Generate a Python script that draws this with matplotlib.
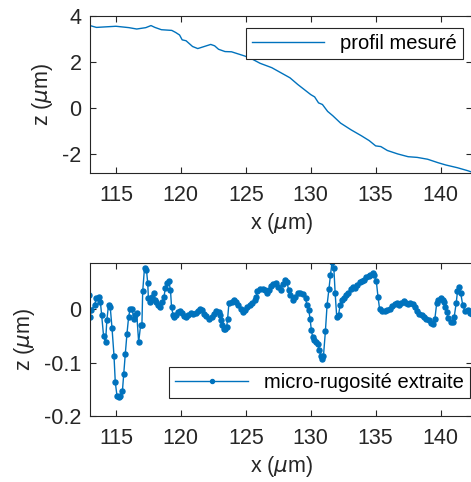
import numpy as np
import matplotlib
matplotlib.use('Agg')
import matplotlib.pyplot as plt
from matplotlib.ticker import FormatStrFormatter

# profil mesure (x en um, z en um)
x_prof = [113.0, 113.5, 115.0, 116.0, 116.6, 117.3, 117.7, 118.0, 118.5, 119.3,
          119.6, 119.9, 120.1, 120.4, 120.9, 121.3, 121.8, 122.3, 122.6, 122.9,
          123.4, 123.9, 124.4, 124.9, 125.4, 126.1, 127.0, 127.7, 128.4, 129.0,
          129.5, 130.0, 130.3, 130.6, 130.9, 131.3, 131.7, 132.3, 133.1, 133.9,
          134.5, 135.0, 135.4, 135.9, 136.7, 137.5, 138.2, 139.0, 139.8, 140.4,
          141.3, 142.1, 142.45]
z_prof = [3.58, 3.50, 3.55, 3.49, 3.43, 3.49, 3.58, 3.50, 3.40, 3.37,
          3.28, 3.17, 2.96, 2.92, 2.67, 2.58, 2.67, 2.76, 2.70, 2.55,
          2.45, 2.44, 2.35, 2.26, 2.15, 1.94, 1.75, 1.53, 1.31, 1.02,
          0.80, 0.58, 0.48, 0.22, 0.15, -0.15, -0.34, -0.66, -0.95, -1.21,
          -1.42, -1.65, -1.68, -1.85, -2.00, -2.12, -2.15, -2.23, -2.38, -2.48,
          -2.60, -2.73, -2.80]

# micro-rugosite extraite
x_rug = [112.94, 113.0, 113.1, 113.35, 113.5, 113.66, 113.8, 113.9, 114.05, 114.2,
         114.3, 114.43, 114.56, 114.7, 114.85, 114.95, 115.08, 115.2, 115.33, 115.5,
         115.6, 115.72, 115.85, 115.98, 116.1, 116.24, 116.37, 116.5, 116.6, 116.75,
         116.9, 117.0, 117.06, 117.2, 117.35, 117.45, 117.5, 117.65, 117.8, 117.9,
         118.0, 118.1, 118.25, 118.43, 118.55, 118.7, 118.8, 118.95, 119.07, 119.2,
         119.28, 119.4, 119.5, 119.64, 119.8, 119.97, 120.1, 120.26, 120.4, 120.57,
         120.75, 120.95, 121.13, 121.3, 121.47, 121.6, 121.78, 121.96, 122.16, 122.37,
         122.55, 122.73, 122.9, 123.0, 123.1, 123.2, 123.3, 123.4, 123.53, 123.6,
         123.7, 123.9, 124.1, 124.28, 124.43, 124.6, 124.8, 124.95, 125.13, 125.3,
         125.5, 125.7, 125.8, 125.9, 126.08, 126.3, 126.47, 126.62, 126.8, 126.93,
         127.1, 127.3, 127.5, 127.7, 127.9, 128.04, 128.17, 128.3, 128.43, 128.6,
         128.8, 129.0, 129.2, 129.43, 129.6, 129.7, 129.85, 129.95, 130.05, 130.15,
         130.26, 130.4, 130.54, 130.67, 130.77, 130.88, 130.98, 131.13, 131.26, 131.4,
         131.52, 131.65, 131.78, 131.88, 132.0, 132.14, 132.27, 132.4, 132.55, 132.73,
         132.9, 133.07, 133.25, 133.43, 133.58, 133.76, 133.94, 134.1, 134.28, 134.46,
         134.6, 134.8, 134.9, 135.05, 135.18, 135.3, 135.5, 135.7, 135.88, 136.08,
         136.26, 136.47, 136.65, 136.8, 136.98, 137.16, 137.3, 137.5, 137.68, 137.84,
         138.0, 138.2, 138.35, 138.53, 138.7, 138.9, 139.1, 139.25, 139.43, 139.56,
         139.7, 139.8, 140.0, 140.15, 140.26, 140.36, 140.46, 140.6, 140.77, 140.93,
         141.05, 141.2, 141.3, 141.4, 141.55, 141.7, 141.88, 142.1, 142.27, 142.4]
z_rug = [0.026, -0.014, -0.002, 0.008, 0.020, 0.023, 0.014, -0.011, -0.051, -0.062,
         -0.021, 0.008, 0.004, -0.036, -0.087, -0.137, -0.162, -0.165, -0.162, -0.153,
         -0.121, -0.084, -0.046, -0.014, 0.001, 0.001, -0.018, -0.011, -0.008, -0.062,
         -0.030, -0.030, 0.033, 0.077, 0.074, 0.048, 0.020, 0.014, 0.023, 0.030,
         0.017, 0.014, 0.008, 0.004, 0.014, 0.023, 0.039, 0.048, 0.052, 0.036,
         0.004, -0.011, -0.014, -0.011, -0.005, -0.003, -0.008, -0.013, -0.014, -0.011,
         -0.008, -0.009, -0.007, -0.003, 0.001, -0.002, -0.009, -0.013, -0.018, -0.014,
         -0.009, -0.003, -0.005, -0.011, -0.021, -0.030, -0.038, -0.038, -0.033, -0.018,
         0.011, 0.014, 0.018, 0.014, 0.008, 0.001, -0.005, -0.002, 0.004, 0.008,
         0.011, 0.017, 0.023, 0.033, 0.037, 0.037, 0.035, 0.030, 0.036, 0.043,
         0.047, 0.048, 0.042, 0.036, 0.047, 0.055, 0.050, 0.036, 0.026, 0.017,
         0.022, 0.030, 0.031, 0.028, 0.020, 0.008, -0.002, -0.018, -0.040, -0.052,
         -0.057, -0.062, -0.065, -0.076, -0.087, -0.093, -0.088, -0.041, 0.008, 0.037,
         0.064, 0.089, 0.077, 0.030, -0.014, -0.011, 0.008, 0.018, 0.020, 0.026,
         0.030, 0.037, 0.042, 0.040, 0.045, 0.050, 0.052, 0.055, 0.060, 0.062,
         0.064, 0.067, 0.064, 0.052, 0.023, 0.001, -0.003, -0.003, -0.002, 0.001,
         0.006, 0.009, 0.012, 0.008, 0.011, 0.016, 0.012, 0.009, 0.012, 0.009,
         0.004, -0.003, -0.009, -0.011, -0.014, -0.019, -0.021, -0.026, -0.028, -0.018,
         0.011, 0.018, 0.020, 0.018, 0.014, 0.004, -0.005, -0.016, -0.024, -0.024,
         -0.014, 0.011, 0.033, 0.042, 0.030, 0.008, -0.003, -0.002, -0.007, -0.009]

x_ticks = [115, 120, 125, 130, 135, 140]

blue = '#0072BD'
dark = '#262626'

plt.rcParams['font.family'] = ['Liberation Sans', 'DejaVu Sans']
plt.rcParams['axes.unicode_minus'] = False
plt.rcParams['axes.edgecolor'] = dark
plt.rcParams['xtick.color'] = dark
plt.rcParams['ytick.color'] = dark
plt.rcParams['axes.labelcolor'] = dark
plt.rcParams['axes.linewidth'] = 0.8

fig = plt.figure(figsize=(4.71, 4.82), dpi=100)
ax1 = fig.add_axes([0.191, 0.641, 0.812, 0.326])
ax2 = fig.add_axes([0.191, 0.137, 0.812, 0.317])

ax1.plot(x_prof, z_prof, color=blue, lw=1.0, label='profil mesuré')
ax1.set_ylim(-2.83, 4)
ax1.set_yticks([-2, 0, 2, 4])

ax2.plot(x_rug, z_rug, color=blue, lw=1.0, marker='o', ms=3.6,
         label='micro-rugosité extraite')
ax2.set_ylim(-0.2, 0.086)
ax2.set_yticks([-0.2, -0.1, 0])
ax2.yaxis.set_major_formatter(FormatStrFormatter('%g'))

for ax in (ax1, ax2):
    ax.set_xlim(113, 142.45)
    ax.set_xticks(x_ticks)
    ax.tick_params(direction='in', top=True, right=True, labelsize=15.5,
                   length=4, width=0.8)
    ax.tick_params(axis='x', pad=8.5)
    ax.tick_params(axis='y', pad=6)
    ax.set_xlabel(r'x ($\mu$m)', fontsize=15.5, labelpad=4)
    ax.set_ylabel(r'z ($\mu$m)', fontsize=15.5, labelpad=5)

leg1 = ax1.legend(loc='upper right', bbox_to_anchor=(463 / 471, 1 - 28 / 482),
                  bbox_transform=fig.transFigure, fontsize=14.5, fancybox=False,
                  edgecolor=dark, framealpha=1, handlelength=3.6,
                  borderpad=0.3, borderaxespad=0)
leg1.get_frame().set_linewidth(0.8)
leg2 = ax2.legend(loc='upper right', bbox_to_anchor=(470 / 471, 1 - 367 / 482),
                  bbox_transform=fig.transFigure, fontsize=14.5, fancybox=False,
                  edgecolor=dark, framealpha=1, handlelength=3.6,
                  borderpad=0.3, borderaxespad=0, markerscale=0.8)
leg2.get_frame().set_linewidth(0.8)

fig.savefig('out.png', dpi=100)
